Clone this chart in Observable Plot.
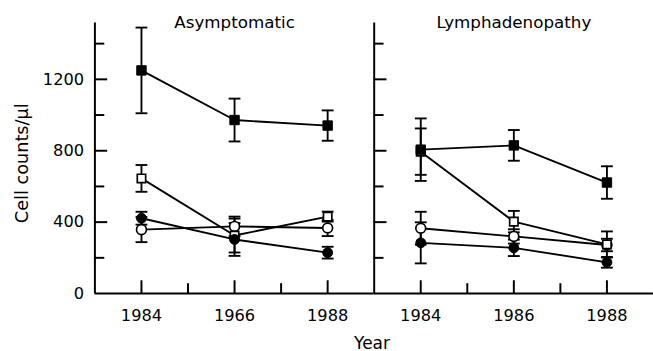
<!DOCTYPE html>
<html><head><meta charset="utf-8">
<script src="https://cdn.jsdelivr.net/npm/d3@7"></script>
<script src="https://cdn.jsdelivr.net/npm/@observablehq/plot@0.6"></script>
<style>
html,body{margin:0;padding:0;background:#fff;overflow:hidden;width:653px;height:351px}
#wrap{position:relative;width:653px;height:351px}
#xlabel{position:absolute;left:372px;top:343px;transform:translate(-50%,-50%);font-family:"DejaVu Sans";font-size:17px;color:#000;white-space:nowrap;line-height:1}
</style>
</head><body><div id="wrap"><div id="chart"></div><div id="xlabel"></div></div>
<script>
// ---- data ----
const panels = ["Asymptomatic", "Lymphadenopathy"];
const years = [1984, 1986, 1988];
const minorYears = [1985, 1987];
const asymTickLabels = ["1984", "1966", "1988"];
const lymphTickLabels = ["1984", "1986", "1988"];
const yTickLabels = [0, 400, 800, 1200];
const yMajorTicks = [400, 800, 1200];
const yMinorTicks = [200, 600, 1000, 1400];
const yLabel = "Cell counts/μl";
const xLabel = "Year";

// Asymptomatic
const asymFilledSquare = [1250, 972, 941];
const asymFilledSquareErr = [240, 120, 85];
const asymOpenSquare = [645, 325, 431];
const asymOpenSquareErr = [75, 95, 28];
const asymFilledCircle = [422, 303, 229];
const asymFilledCircleErr = [36, 92, 33];
const asymOpenCircle = [358, 376, 367];
const asymOpenCircleErr = [70, 55, 45];
// Lymphadenopathy
const lymphFilledSquare = [806, 830, 622];
const lymphFilledSquareErr = [175, 86, 91];
const lymphOpenSquare = [795, 403, 275];
const lymphOpenSquareErr = [130, 60, 73];
const lymphFilledCircle = [284, 256, 175];
const lymphFilledCircleErr = [115, 46, 30];
const lymphOpenCircle = [366, 320, 272];
const lymphOpenCircleErr = [92, 40, 35];

// ---- build table ----
const rows = [];
function add(panel, series, vals, errs) {
  years.forEach((yr, i) => rows.push({panel, series, year: yr, value: vals[i], err: errs[i]}));
}
add(panels[0], "filledSquare", asymFilledSquare, asymFilledSquareErr);
add(panels[0], "openSquare", asymOpenSquare, asymOpenSquareErr);
add(panels[0], "filledCircle", asymFilledCircle, asymFilledCircleErr);
add(panels[0], "openCircle", asymOpenCircle, asymOpenCircleErr);
add(panels[1], "filledSquare", lymphFilledSquare, lymphFilledSquareErr);
add(panels[1], "openSquare", lymphOpenSquare, lymphOpenSquareErr);
add(panels[1], "filledCircle", lymphFilledCircle, lymphFilledCircleErr);
add(panels[1], "openCircle", lymphOpenCircle, lymphOpenCircleErr);

const capRows = rows.flatMap(d => [{...d, cap: d.value - d.err}, {...d, cap: d.value + d.err}]);
const tickLabelRows = panels.flatMap((p, i) =>
  years.map((yr, j) => ({panel: p, year: yr, label: (i === 0 ? asymTickLabels : lymphTickLabels)[j]})));

const capSymbol = {draw(ctx, size) { const w = Math.sqrt(size / Math.PI); ctx.moveTo(-w, 0); ctx.lineTo(w, 0); }};

const panelW = 284, marginLeft = 96, marginTop = 23, marginBottom = 53, height = 351;
const frameH = height - marginTop - marginBottom;
const sw = 1.9;
const by = s => rows.filter(d => d.series === s);

const chart = Plot.plot({
  width: marginLeft + 2 * panelW, height,
  marginLeft, marginRight: 0, marginTop, marginBottom,
  style: {fontFamily: "DejaVu Sans", fontSize: "16px", color: "black", background: "white"},
  fx: {domain: panels, padding: 0, axis: null},
  x: {domain: [1983, 1989], axis: null},
  y: {domain: [0, 1515], axis: null},
  marks: [
    Plot.ruleY([0], {strokeWidth: 2}),
    Plot.ruleX([1983], {strokeWidth: 2}),
    Plot.ruleY(yMajorTicks, {insetRight: panelW - 13, strokeWidth: 2}),
    Plot.ruleY(yMinorTicks, {insetRight: panelW - 10, strokeWidth: 2}),
    Plot.ruleX(years, {insetTop: frameH - 13, strokeWidth: 2}),
    Plot.ruleX(minorYears, {insetTop: frameH - 10, strokeWidth: 2}),
    Plot.axisY(yTickLabels, {tickSize: 0, tickPadding: 11, label: null, fontSize: 16.5, tickFormat: d => String(d)}),
    Plot.text(tickLabelRows, {fx: "panel", x: "year", text: "label", frameAnchor: "bottom", lineAnchor: "top", dy: 16, fontSize: 16.5}),
    Plot.text(panels, {fx: d => d, text: d => d, frameAnchor: "top", lineAnchor: "middle", dy: 0, fontSize: 17}),
    Plot.text([yLabel], {fx: () => panels[0], text: d => d, frameAnchor: "left", textAnchor: "middle", rotate: -90, dx: -74, dy: 5, fontSize: 18}),
    Plot.line(rows, {fx: "panel", x: "year", y: "value", z: d => d.panel + d.series, stroke: "black", strokeWidth: sw}),
    Plot.ruleX(rows, {fx: "panel", x: "year", y1: d => d.value - d.err, y2: d => d.value + d.err, strokeWidth: sw}),
    Plot.dot(capRows, {fx: "panel", x: "year", y: "cap", symbol: capSymbol, r: 6, stroke: "black", fill: "none", strokeWidth: sw}),
    Plot.dot(by("openCircle"), {fx: "panel", x: "year", y: "value", symbol: "circle", r: 5, fill: "white", stroke: "black", strokeWidth: 1.7}),
    Plot.dot(by("openSquare"), {fx: "panel", x: "year", y: "value", symbol: "square", r: 4.8, fill: "white", stroke: "black", strokeWidth: 1.7}),
    Plot.dot(by("filledSquare"), {fx: "panel", x: "year", y: "value", symbol: "square", r: 5.4, fill: "black", stroke: "black", strokeWidth: 1}),
    Plot.dot(by("filledCircle"), {fx: "panel", x: "year", y: "value", symbol: "circle", r: 5, fill: "black", stroke: "black", strokeWidth: 1})
  ]
});
document.getElementById("chart").appendChild(chart);
document.getElementById("xlabel").textContent = xLabel;
</script>
</body></html>
